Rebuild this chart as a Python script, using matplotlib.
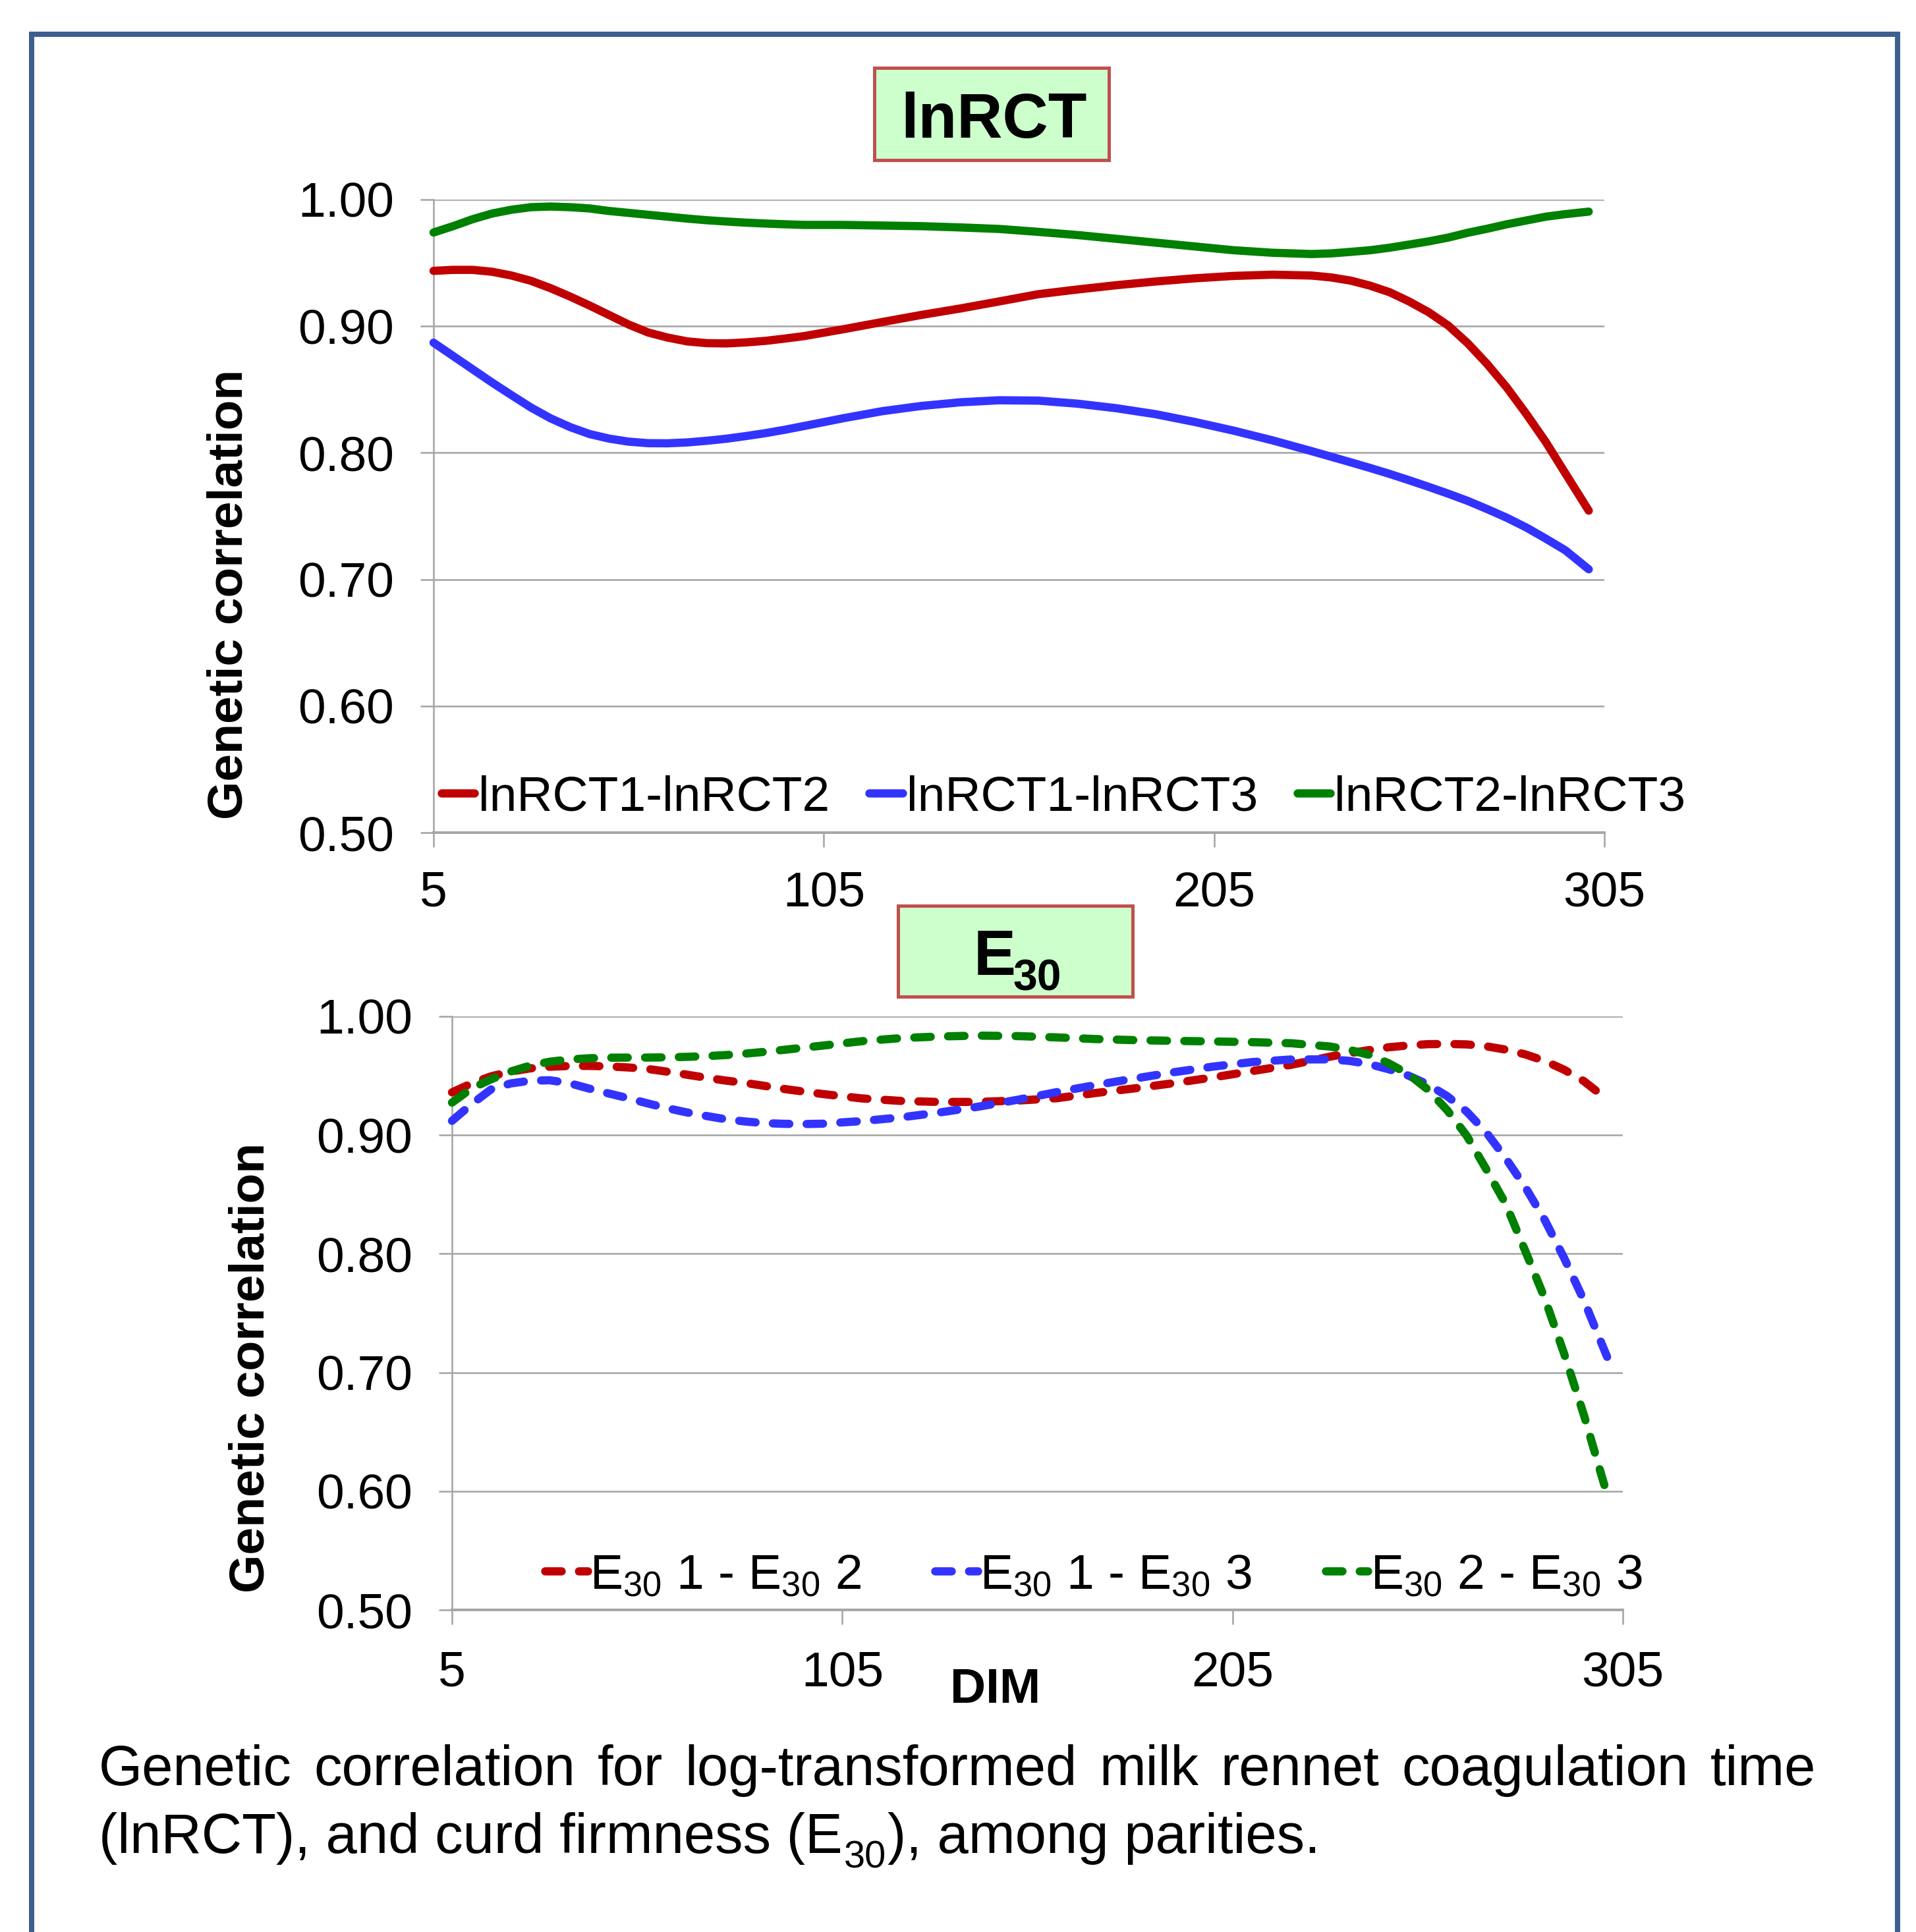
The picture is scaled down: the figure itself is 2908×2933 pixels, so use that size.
import matplotlib
matplotlib.use("Agg")
import matplotlib.pyplot as plt
from matplotlib.patches import Rectangle
from matplotlib.ticker import FormatStrFormatter

plt.rcParams['font.family'] = ['Liberation Sans', 'DejaVu Sans']
plt.rcParams['mathtext.fontset'] = 'custom'
plt.rcParams['mathtext.rm'] = 'Liberation Sans'
plt.rcParams['mathtext.it'] = 'Liberation Sans:italic'
plt.rcParams['mathtext.bf'] = 'Liberation Sans:bold'
plt.rcParams['mathtext.default'] = 'regular'

# ---------------- data ----------------
dim = [5, 10, 15, 20, 25, 30, 35, 40, 45, 50, 55, 60, 65, 70, 75, 80, 85, 90, 95, 100,
       110, 120, 130, 140, 150, 160, 170, 180, 190, 200, 210, 220, 230,
       235, 240, 245, 250, 255, 260, 265, 270, 275, 280, 285, 290, 295, 301]

lnrct_12 = [0.9437, 0.9445, 0.9445, 0.9430, 0.9400, 0.9358, 0.9300, 0.9234, 0.9163, 0.9088,
            0.9013, 0.8950, 0.8910, 0.8880, 0.8866, 0.8864, 0.8872, 0.8884, 0.8902, 0.8922,
            0.8976, 0.9033, 0.9089, 0.9140, 0.9196, 0.9253, 0.9290, 0.9324, 0.9353, 0.9378,
            0.9397, 0.9407, 0.9400,
            0.9385, 0.9360, 0.9320, 0.9268, 0.9195, 0.9110, 0.9005, 0.8865, 0.8700, 0.8516,
            0.8307, 0.8085, 0.7838, 0.7543]
lnrct_13 = [0.8870, 0.8765, 0.8660, 0.8555, 0.8455, 0.8357, 0.8272, 0.8203, 0.8148, 0.8112,
            0.8088, 0.8076, 0.8075, 0.8082, 0.8095, 0.8111, 0.8132, 0.8155, 0.8182, 0.8212,
            0.8273, 0.8329, 0.8370, 0.8399, 0.8415, 0.8412, 0.8388, 0.8352, 0.8305, 0.8244,
            0.8175, 0.8098, 0.8013,
            0.7969, 0.7925, 0.7880, 0.7833, 0.7783, 0.7731, 0.7677, 0.7620, 0.7555, 0.7487,
            0.7410, 0.7322, 0.7230, 0.7080]
lnrct_23 = [0.9740, 0.9790, 0.9845, 0.9890, 0.9920, 0.9940, 0.9945, 0.9940, 0.9930, 0.9910,
            0.9895, 0.9880, 0.9865, 0.9850, 0.9837, 0.9827, 0.9818, 0.9811, 0.9805, 0.9800,
            0.9800, 0.9795, 0.9790, 0.9780, 0.9768, 0.9745, 0.9720, 0.9690, 0.9660, 0.9630,
            0.9600, 0.9580, 0.9570,
            0.9575, 0.9587, 0.9600, 0.9620, 0.9645, 0.9670, 0.9700, 0.9738, 0.9770, 0.9805,
            0.9835, 0.9865, 0.9885, 0.9905]

e30_12 = [0.9360, 0.9435, 0.9495, 0.9535, 0.9562, 0.9576, 0.9582, 0.9583, 0.9579, 0.9570,
          0.9558, 0.9535, 0.9510, 0.9484, 0.9460, 0.9440, 0.9415, 0.9389, 0.9367, 0.9346,
          0.9309, 0.9288, 0.9279, 0.9280, 0.9291, 0.9311, 0.9355, 0.9394, 0.9438, 0.9486,
          0.9539, 0.9592, 0.9661,
          0.9690, 0.9716, 0.9740, 0.9755, 0.9766, 0.9768, 0.9764, 0.9748, 0.9720, 0.9680,
          0.9625, 0.9550, 0.9455, 0.9300]
e30_13 = [0.9120, 0.9260, 0.9385, 0.9435, 0.9458, 0.9462, 0.9438, 0.9393, 0.9352, 0.9312,
          0.9268, 0.9228, 0.9192, 0.9162, 0.9134, 0.9115, 0.9101, 0.9095, 0.9093, 0.9096,
          0.9118, 0.9149, 0.9191, 0.9240, 0.9298, 0.9362, 0.9422, 0.9477, 0.9530, 0.9577,
          0.9615, 0.9637, 0.9638,
          0.9625, 0.9598, 0.9555, 0.9502, 0.9428, 0.9328, 0.9198, 0.9023, 0.8805, 0.8562,
          0.8285, 0.7962, 0.7610, 0.7130]
e30_23 = [0.9274, 0.9393, 0.9470, 0.9535, 0.9585, 0.9618, 0.9637, 0.9647, 0.9652, 0.9653,
          0.9653, 0.9655, 0.9659, 0.9665, 0.9674, 0.9686, 0.9701, 0.9718, 0.9736, 0.9754,
          0.9791, 0.9817, 0.9831, 0.9838, 0.9834, 0.9823, 0.9809, 0.9800, 0.9794, 0.9789,
          0.9783, 0.9774, 0.9746,
          0.9718, 0.9676, 0.9605, 0.9515, 0.9385, 0.9210, 0.8995, 0.8713, 0.8420, 0.8025,
          0.7625, 0.7155, 0.6645, 0.5970]

top_labels = ['lnRCT1-lnRCT2', 'lnRCT1-lnRCT3', 'lnRCT2-lnRCT3']
bot_labels = [r'E$_{30}$ 1 - E$_{30}$ 2', r'E$_{30}$ 1 - E$_{30}$ 3', r'E$_{30}$ 2 - E$_{30}$ 3']
colors = ['#C00000', '#3333FF', '#008000']
xticks = [5, 105, 205, 305]
yticks = [0.50, 0.60, 0.70, 0.80, 0.90, 1.00]
caption1 = "Genetic correlation for log-transformed milk rennet coagulation time"
caption2a = "(lnRCT), and curd firmness (E"
caption2b = "30"
caption2c = "), among parities."

# ---------------- figure ----------------
W, H = 2908, 2933
DPI = 100
fig = plt.figure(figsize=(W / DPI, H / DPI), dpi=DPI)
fig.patch.set_facecolor('white')

def fx(px):
    return px / W

def fy(py):
    return 1 - py / H

PT = 72.0 / DPI  # points per pixel
FS = 75 * PT          # tick / legend / axis-label font size
LW = 12.5 * PT        # series line width
GRID = '#A6A6A6'

# outer frame
fig.add_artist(Rectangle((fx(48), -0.05), fx(2880) - fx(48), fy(52) + 0.05,
                         transform=fig.transFigure, facecolor='none',
                         edgecolor='#3C5F8F', linewidth=8 * PT, zorder=0))

def style_axes(ax, xpad):
    ax.set_xlim(5, 305)
    ax.set_ylim(0.5, 1.0)
    ax.set_xticks(xticks)
    ax.set_yticks(yticks)
    ax.yaxis.set_major_formatter(FormatStrFormatter('%.2f'))
    ax.grid(axis='y', color=GRID, linewidth=2.6 * PT)
    ax.set_axisbelow(True)
    for s in ['top', 'right']:
        ax.spines[s].set_visible(False)
    ax.spines['left'].set_color(GRID)
    ax.spines['left'].set_linewidth(2.6 * PT)
    ax.spines['bottom'].set_color(GRID)
    ax.spines['bottom'].set_linewidth(4 * PT)
    ax.tick_params(axis='x', direction='out', length=22 * PT, width=2.6 * PT,
                   color=GRID, labelsize=FS, pad=xpad * PT)
    ax.tick_params(axis='y', direction='out', length=20 * PT, width=2.6 * PT,
                   color=GRID, labelsize=FS, pad=40 * PT)

# ---- top chart ----
ax1 = fig.add_axes([fx(658), fy(1264), fx(2435) - fx(658), fy(303) - fy(1264)])
style_axes(ax1, 35)
for vals, c, lab in zip([lnrct_12, lnrct_13, lnrct_23], colors, top_labels):
    ax1.plot(dim, vals, color=c, linewidth=LW, solid_capstyle='round',
             solid_joinstyle='round', label=lab, clip_on=False, zorder=3)
ax1.legend(loc='center left', bbox_to_anchor=(fx(670), fy(1211)),
           bbox_transform=fig.transFigure, ncol=3, frameon=False, fontsize=FS,
           handlelength=0.67, handletextpad=0.08, columnspacing=0.8,
           borderpad=0, borderaxespad=0)

# ---- bottom chart ----
ax2 = fig.add_axes([fx(686), fy(2444), fx(2463) - fx(686), fy(1543) - fy(2444)])
style_axes(ax2, 39)
for vals, c, lab in zip([e30_12, e30_13, e30_23], colors, bot_labels):
    ax2.plot(dim, vals, color=c, linewidth=LW, linestyle=(0, (2.0, 2.1)),
             dash_capstyle='round', dash_joinstyle='round', label=lab,
             clip_on=False, zorder=3)
ax2.legend(loc='center left', bbox_to_anchor=(fx(827), fy(2392)),
           bbox_transform=fig.transFigure, ncol=3, frameon=False, fontsize=FS,
           handlelength=0.86, handletextpad=0.05, columnspacing=1.49,
           borderpad=0, borderaxespad=0)

# axis labels
fig.text(fx(348), fy(902), 'Genetic correlation', rotation=90, ha='center',
         va='center', fontsize=FS, fontweight='bold')
fig.text(fx(381), fy(2076), 'Genetic correlation', rotation=90, ha='center',
         va='center', fontsize=FS, fontweight='bold')
fig.text(fx(1511), fy(2585), 'DIM', ha='center', va='baseline', fontsize=FS,
         fontweight='bold')

# title boxes
fig.add_artist(Rectangle((fx(1327), fy(243)), fx(1683) - fx(1327), fy(103) - fy(243),
                         transform=fig.transFigure, facecolor='#CCFFCC',
                         edgecolor='#C0504D', linewidth=5 * PT, zorder=2))
fig.text(fx(1508), fy(209), 'lnRCT', ha='center', va='baseline', fontsize=96 * PT,
         fontweight='bold', zorder=3)
fig.add_artist(Rectangle((fx(1363), fy(1513)), fx(1719) - fx(1363), fy(1375) - fy(1513),
                         transform=fig.transFigure, facecolor='#CCFFCC',
                         edgecolor='#C0504D', linewidth=5 * PT, zorder=2))
fig.text(fx(1478), fy(1480), 'E', ha='left', va='baseline', fontsize=96 * PT,
         fontweight='bold', zorder=3)
fig.text(fx(1537), fy(1504), '30', ha='left', va='baseline', fontsize=66 * PT,
         fontweight='bold', zorder=3)

# caption (first line justified, second line left aligned)
CFS = 85 * PT
fig.canvas.draw()
rend = fig.canvas.get_renderer()
words = caption1.split()
wtexts = [fig.text(0, fy(2710), w, ha='left', va='baseline', fontsize=CFS) for w in words]
widths = [t.get_window_extent(rend).width for t in wtexts]
left_px, right_px = 150, 2756
gap = (right_px - left_px - sum(widths)) / (len(words) - 1)
xcur = left_px
for t, wd in zip(wtexts, widths):
    t.set_x(fx(xcur))
    xcur += wd + gap

ta = fig.text(fx(left_px), fy(2813), caption2a, ha='left', va='baseline', fontsize=CFS)
wa = ta.get_window_extent(rend).width
tb = fig.text(fx(left_px + wa + 2), fy(2835), caption2b, ha='left', va='baseline',
              fontsize=CFS * 0.68)
wb = tb.get_window_extent(rend).width
fig.text(fx(left_px + wa + wb + 4), fy(2813), caption2c, ha='left', va='baseline',
         fontsize=CFS)

fig.savefig('out.png', dpi=DPI)
